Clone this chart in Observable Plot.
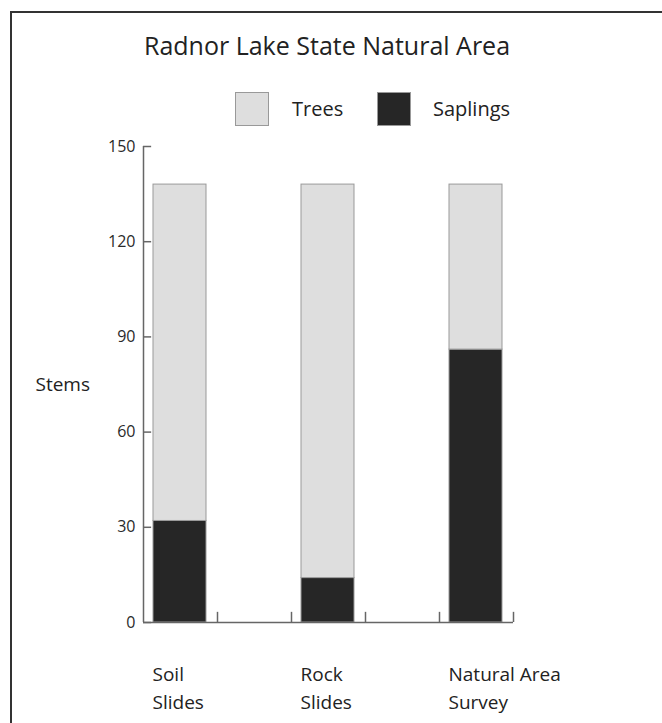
<!DOCTYPE html>
<html>
<head>
<meta charset="utf-8">
<script src="https://cdn.jsdelivr.net/npm/d3@7"></script>
<script src="https://cdn.jsdelivr.net/npm/@observablehq/plot@0.6"></script>
<style>
  html, body { margin: 0; padding: 0; background: #fff; overflow: hidden; }
  body { width: 662px; height: 723px; position: relative; font-family: "Open Sans", sans-serif; color: #222; }
  #frame { position: absolute; left: 10px; top: 11px; width: 720px; height: 780px;
           border-left: 2px solid #333; border-top: 2px solid #333; }
  #chart { position: absolute; left: 0; top: 0; }
  #title { position: absolute; left: 0; top: 29px; width: 654px; text-align: center;
           font-size: 25px; line-height: 32px; color: #222; }
  .lg-swatch { position: absolute; width: 34px; height: 34px; box-sizing: border-box; border: 1px solid #999; }
  .lg-text { position: absolute; font-size: 20px; line-height: 24px; color: #222; }
</style>
</head>
<body>
<div id="frame"></div>
<div id="chart"></div>
<div id="title">Radnor Lake State Natural Area</div>
<div id="legend"></div>
<script>
// ---- data ----
const categories = ["Soil\nSlides", "Rock\nSlides", "Natural Area\nSurvey"];
const slots = [0, 2, 4];
const saplings = [32, 14, 86];
const trees = [106, 124, 52];
const seriesNames = ["Trees", "Saplings"];
const seriesColors = ["#dedede", "#262626"];
const yTicks = [0, 30, 60, 90, 120, 150];
const xTicks = [1, 2, 3, 4, 5];

// build table (saplings stacked first, at the bottom)
const rows = [];
categories.forEach((c, i) => rows.push({cat: c, slot: slots[i], series: "Saplings", value: saplings[i]}));
categories.forEach((c, i) => rows.push({cat: c, slot: slots[i], series: "Trees", value: trees[i]}));
const labels = categories.map((c, i) => ({cat: c, slot: slots[i]}));

const axisColor = "#666";

const chart = Plot.plot({
  width: 662,
  height: 723,
  marginLeft: 143,
  marginRight: 149,
  marginTop: 146,
  marginBottom: 101,
  x: {domain: [0, 5], axis: null},
  y: {domain: [0, 150], axis: null},
  color: {domain: seriesNames, range: seriesColors},
  style: {fontFamily: "Open Sans, sans-serif", background: "transparent", color: "#222"},
  marks: [
    Plot.rectY(rows, Plot.stackY({
      x1: "slot", x2: d => d.slot + 1, y: "value", fill: "series",
      stroke: "#999", strokeWidth: 1, insetLeft: 10, insetRight: 11
    })),
    Plot.ruleX([0], {y1: 0, y2: 150, stroke: axisColor, strokeWidth: 1.5}),
    Plot.ruleY([0], {x1: 0, x2: 5, stroke: axisColor, strokeWidth: 1.5}),
    Plot.ruleY(yTicks, {x1: 0, x2: 0.11, stroke: axisColor, strokeWidth: 1.5}),
    Plot.ruleX(xTicks, {y1: 0, y2: 3.2, stroke: axisColor, strokeWidth: 1.5}),
    Plot.text(yTicks, {x: 0, y: d => d, text: d => String(d), textAnchor: "end", dx: -8,
      fontSize: 16, fill: "#2a2a2a"}),
    Plot.text(labels, {x: "slot", y: 0, text: "cat", textAnchor: "start", lineAnchor: "top",
      dx: 9, dy: 39, fontSize: 19, lineHeight: 1.47, fill: "#222"}),
    Plot.text(["Stems"], {frameAnchor: "left", text: d => d, textAnchor: "start", dx: -108,
      fontSize: 19, fill: "#222"})
  ]
});
document.getElementById("chart").appendChild(chart);

// legend
const legend = document.getElementById("legend");
const lgPos = [{sx: 235, tx: 292}, {sx: 377, tx: 433}];
seriesNames.forEach((name, i) => {
  const sw = document.createElement("div");
  sw.className = "lg-swatch";
  sw.style.left = lgPos[i].sx + "px";
  sw.style.top = "92px";
  sw.style.background = seriesColors[i];
  legend.appendChild(sw);
  const tx = document.createElement("div");
  tx.className = "lg-text";
  tx.style.left = lgPos[i].tx + "px";
  tx.style.top = "97px";
  tx.textContent = name;
  legend.appendChild(tx);
});
</script>
</body>
</html>
